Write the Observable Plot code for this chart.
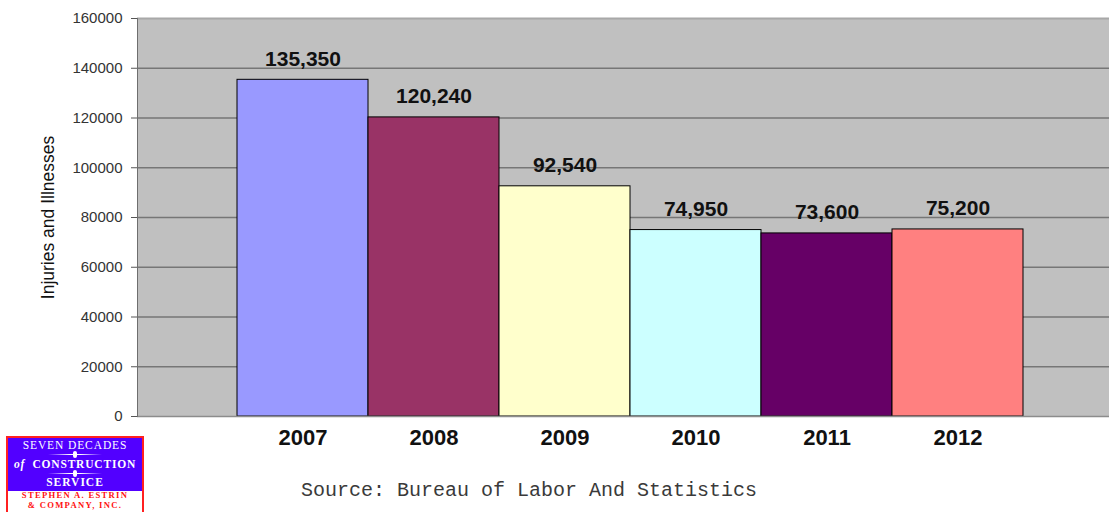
<!DOCTYPE html>
<html><head><meta charset="utf-8">
<script src="https://cdn.jsdelivr.net/npm/d3@7"></script>
<script src="https://cdn.jsdelivr.net/npm/@observablehq/plot@0.6"></script>
<style>
body{margin:0;background:#fff;}
#wrap{position:relative;width:1109px;height:512px;overflow:hidden;font-family:"Liberation Sans",Arial,sans-serif;}
#chart{position:absolute;left:0;top:0;}
#logo{position:absolute;left:6px;top:436px;width:134px;height:80px;border:2px solid #ff2020;background:#fff;font-family:"Liberation Serif","Times New Roman",serif;overflow:hidden;}
#logo .top{background:#5200ff;height:53px;color:#fff;text-align:center;}
#logo .l1{font-size:11.5px;letter-spacing:0.9px;padding-top:1px;line-height:12px;}
#logo .l2{font-size:11.5px;letter-spacing:0.8px;font-weight:bold;line-height:12px;}
#logo .l3{font-size:11.5px;letter-spacing:1px;font-weight:bold;line-height:12px;}
#logo .spark{height:6.5px;position:relative;}
#logo .spark::before{content:"";position:absolute;left:40px;width:54px;top:3px;height:1px;background:linear-gradient(90deg,rgba(255,255,255,0),#fff 40%,#fff 60%,rgba(255,255,255,0));}
#logo .spark::after{content:"";position:absolute;left:65px;width:4px;top:0px;height:7px;background:#fff;border-radius:2px;}
#logo .bot div{color:#ff1010;font-weight:bold;font-size:8.6px;line-height:9.9px;text-align:center;letter-spacing:1.3px;white-space:nowrap;}
#source{position:absolute;left:301px;top:479px;font-family:"Liberation Mono","Courier New",monospace;font-size:20px;color:#3a3a3a;white-space:nowrap;}
</style></head><body>
<div id="wrap">
<div id="chart"></div>
<div id="logo">
 <div class="top">
  <div class="l1">SEVEN DECADES</div>
  <div class="spark"></div>
  <div class="l2"><i>of</i>&nbsp; CONSTRUCTION</div>
  <div class="spark"></div>
  <div class="l3">SERVICE</div>
 </div>
 <div class="bot"><div>STEPHEN A. ESTRIN</div><div>&amp; COMPANY, INC.</div></div>
</div>
<div id="source">Source: Bureau of Labor And Statistics</div>
</div>
<script>
const years = ["2007","2008","2009","2010","2011","2012"];
const injuries = [135350, 120240, 92540, 74950, 73600, 75200];
const barColors = ["#9999ff","#993366","#ffffcc","#ccffff","#660066","#ff8080"];
const yTicks = [0,20000,40000,60000,80000,100000,120000,140000,160000];
const yLabel = "Injuries and Illnesses";

const data = years.map((year, i) => ({year, value: injuries[i]}));

const chart = Plot.plot({
  width: 1109, height: 470,
  marginTop: 18, marginBottom: 54, marginLeft: 137, marginRight: 0,
  style: {fontFamily: "Liberation Sans, Arial, sans-serif", background: "transparent", overflow: "visible"},
  x: {domain: years, paddingInner: 0, paddingOuter: 0.704, align: 0.535, label: null},
  y: {domain: [0, 160000], label: null},
  color: {domain: years, range: barColors},
  marks: [
    Plot.frame({fill: "#c0c0c0"}),
    Plot.gridY(yTicks.slice(1, -1), {stroke: "#767676", strokeOpacity: 1, strokeWidth: 1.3}),
    Plot.ruleY([160000], {stroke: "#a8a8a8", strokeWidth: 2}),
    Plot.barY(data, {x: "year", y: "value", fill: "year", stroke: "#000", strokeWidth: 1}),
    Plot.ruleY([0], {stroke: "#8c8c8c", strokeWidth: 1.5}),
    Plot.frame({anchor: "left", stroke: "#6e6e6e"}),
    Plot.axisY(yTicks, {tickFormat: d => String(d), tickSize: 6, tickPadding: 9, fontSize: 15, fill: "#333", stroke: "#555", label: null}),
    Plot.axisY({ticks: [], label: yLabel, labelAnchor: "center", labelOffset: 96, labelArrow: "none", fontSize: 17.5, fill: "#111"}),
    Plot.axisX({tickSize: 0, tickPadding: 13, fontSize: 22, fontWeight: "bold", fill: "#111", label: null}),
    Plot.text(data, {x: "year", y: "value", text: d => d3.format(",")(d.value), dy: -21, fontSize: 21, fontWeight: "bold", fill: "#111"})
  ]
});
document.getElementById("chart").appendChild(chart);
</script>
</body></html>
